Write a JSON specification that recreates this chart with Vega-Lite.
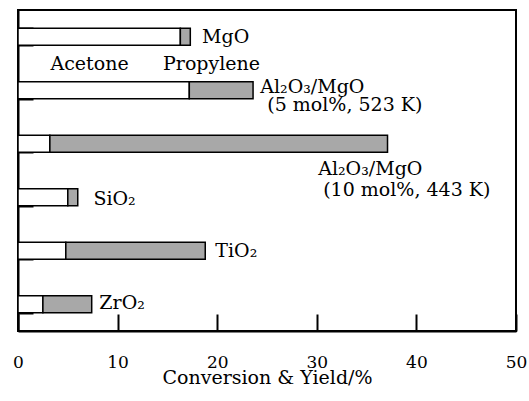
{
  "$schema": "https://vega.github.io/schema/vega-lite/v6.json",
  "width": 498,
  "height": 321,
  "autosize": {"type": "none"},
  "padding": {"left": 18, "top": 10, "right": 13, "bottom": 70},
  "config": {
    "view": {"stroke": "black", "strokeWidth": 2},
    "font": "DejaVu Serif"
  },
  "layer": [
    {
      "data": {
        "values": [
          {"cat": "MgO", "product": "Acetone", "start": 0, "end": 16.3},
          {"cat": "MgO", "product": "Propylene", "start": 16.3, "end": 17.3},
          {"cat": "Al5", "product": "Acetone", "start": 0, "end": 17.2},
          {"cat": "Al5", "product": "Propylene", "start": 17.2, "end": 23.6},
          {"cat": "Al10", "product": "Acetone", "start": 0, "end": 3.2},
          {"cat": "Al10", "product": "Propylene", "start": 3.2, "end": 37.1},
          {"cat": "SiO2", "product": "Acetone", "start": 0, "end": 5.0},
          {"cat": "SiO2", "product": "Propylene", "start": 5.0, "end": 6.0},
          {"cat": "TiO2", "product": "Acetone", "start": 0, "end": 4.8},
          {"cat": "TiO2", "product": "Propylene", "start": 4.8, "end": 18.8},
          {"cat": "ZrO2", "product": "Acetone", "start": 0, "end": 2.5},
          {"cat": "ZrO2", "product": "Propylene", "start": 2.5, "end": 7.4}
        ]
      },
      "mark": {"type": "bar", "stroke": "black", "strokeWidth": 1.5},
      "encoding": {
        "y": {
          "field": "cat",
          "type": "nominal",
          "scale": {"domain": ["MgO", "Al5", "Al10", "SiO2", "TiO2", "ZrO2"], "paddingInner": 0.68, "paddingOuter": 0.34},
          "axis": {
            "title": null,
            "labels": false,
            "grid": false,
            "tickBand": "extent",
            "tickSize": -15,
            "tickColor": "black",
            "tickWidth": 2,
            "domainColor": "black",
            "domainWidth": 2
          }
        },
        "x": {
          "field": "start",
          "type": "quantitative",
          "scale": {"domain": [0, 50], "nice": false},
          "axis": {
            "title": "Conversion & Yield/%",
            "values": [0, 10, 20, 30, 40, 50],
            "grid": false,
            "tickSize": -17,
            "tickColor": "black",
            "tickWidth": 2,
            "domainColor": "black",
            "domainWidth": 2,
            "labelPadding": 40,
            "labelFlush": false,
            "labelFont": "DejaVu Serif",
            "labelFontSize": 17,
            "labelColor": "black",
            "titleFont": "DejaVu Serif",
            "titleFontSize": 19,
            "titleFontWeight": "normal",
            "titleColor": "black",
            "titlePadding": -2
          }
        },
        "x2": {"field": "end"},
        "fill": {
          "field": "product",
          "type": "nominal",
          "scale": {"domain": ["Acetone", "Propylene"], "range": ["white", "#a8a8a8"]},
          "legend": null
        }
      }
    },
    {
      "data": {
        "values": [
          {"label": "MgO", "tx": 18.48, "ty": 0.615},
          {"label": "Acetone", "tx": 3.26, "ty": 1.118},
          {"label": "Propylene", "tx": 14.56, "ty": 1.118},
          {"label": "Al₂O₃/MgO", "tx": 24.32, "ty": 1.546},
          {"label": "(5 mol%, 523 K)", "tx": 25.03, "ty": 1.882},
          {"label": "Al₂O₃/MgO", "tx": 30.14, "ty": 3.093},
          {"label": "(10 mol%, 443 K)", "tx": 30.64, "ty": 3.484},
          {"label": "SiO₂", "tx": 7.57, "ty": 3.652},
          {"label": "TiO₂", "tx": 19.81, "ty": 4.621},
          {"label": "ZrO₂", "tx": 8.17, "ty": 5.59}
        ]
      },
      "mark": {"type": "text", "align": "left", "baseline": "alphabetic", "font": "DejaVu Serif", "fontSize": 19, "color": "black"},
      "encoding": {
        "x": {"field": "tx", "type": "quantitative", "scale": {"domain": [0, 50], "nice": false}},
        "y": {"field": "ty", "type": "quantitative", "scale": {"domain": [0, 6], "reverse": true, "nice": false, "zero": false}, "axis": null},
        "text": {"field": "label"}
      }
    }
  ],
  "resolve": {"scale": {"y": "independent"}}
}
